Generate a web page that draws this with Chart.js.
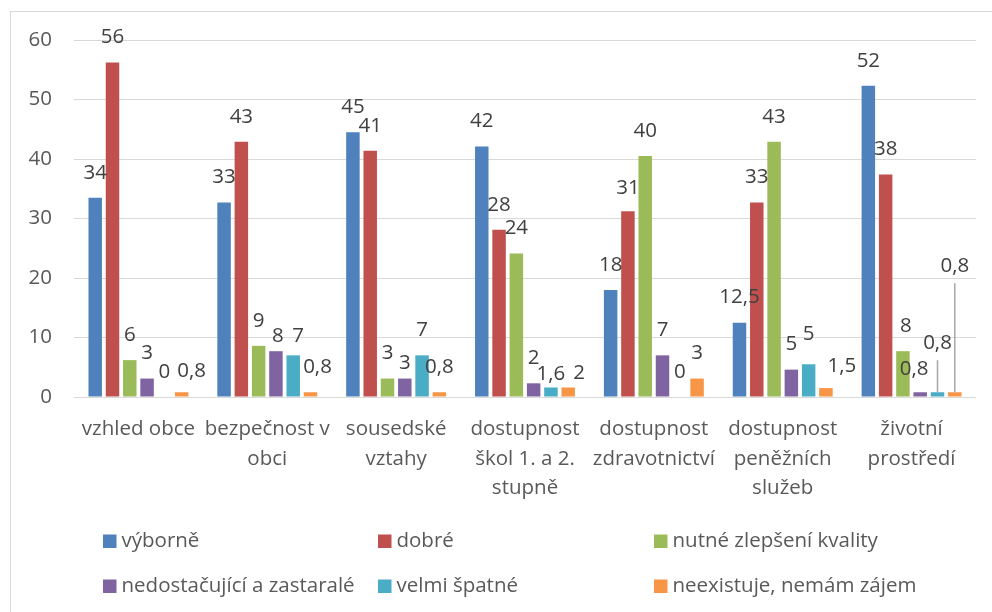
<!DOCTYPE html>
<html>
<head>
<meta charset="utf-8">
<script src="https://cdn.jsdelivr.net/npm/chart.js@4.4.1/dist/chart.umd.min.js"></script>
<style>
  html, body { margin: 0; padding: 0; background: #fff; }
  #wrap { width: 992px; height: 612px; }
</style>
</head>
<body>
<div id="wrap"><canvas id="graf" width="992" height="612"></canvas></div>
<script>
// kategorie (osa x)
const kategorie = [
    'vzhled obce',
    ['bezpečnost v', 'obci'],
    ['sousedské', 'vztahy'],
    ['dostupnost', 'škol 1. a 2.', 'stupně'],
    ['dostupnost', 'zdravotnictví'],
    ['dostupnost', 'peněžních', 'služeb'],
    ['životní', 'prostředí']
];

// názvy řad
const nazvyRad = ['výborně', 'dobré', 'nutné zlepšení kvality', 'nedostačující a zastaralé', 'velmi špatné', 'neexistuje, nemám zájem'];

// výšky sloupců
const vyborne       = [33.5, 32.7, 44.5, 42.1, 18.0, 12.5, 52.3];
const dobre         = [56.2, 42.9, 41.4, 28.1, 31.2, 32.7, 37.4];
const nutne         = [6.2, 8.6, 3.1, 24.1, 40.5, 42.9, 7.7];
const nedostacujici = [3.1, 7.7, 3.1, 2.3, 7.0, 4.6, 0.8];
const velmiSpatne   = [0, 7.0, 7.0, 1.6, 0, 5.5, 0.8];
const neexistuje    = [0.8, 0.8, 0.8, 1.6, 3.1, 1.5, 0.8];

// popisky hodnot tak, jak jsou v grafu
const vyborneText       = ['34', '33', '45', '42', '18', '12,5', '52'];
const dobreText         = ['56', '43', '41', '28', '31', '33', '38'];
const nutneText         = ['6', '9', '3', '24', '40', '43', '8'];
const nedostacujiciText = ['3', '8', '3', '2', '7', '5', '0,8'];
const velmiSpatneText   = ['0', '7', '7', '1,6', '0', '5', '0,8'];
const neexistujeText    = ['0,8', '0,8', '0,8', '2', '3', '1,5', '0,8'];

// popisky osy y
const tickyY = [0, 10, 20, 30, 40, 50, 60];

const barvy = ['#4f81bd', '#c0504d', '#9bbb59', '#8064a2', '#4bacc6', '#f79646'];
const hodnoty = [vyborne, dobre, nutne, nedostacujici, velmiSpatne, neexistuje];
const texty = [vyborneText, dobreText, nutneText, nedostacujiciText, velmiSpatneText, neexistujeText];

// ručně posunuté popisky [řada-kategorie] = [dx, nahoru]
const posuny = {
    '1-4': [0, -2],
    '2-6': [3, 0],
    '3-1': [2, -10], '3-2': [0, -10], '3-6': [-6, -2],
    '4-1': [5, -6], '4-3': [0, -12], '4-5': [0, 5], '4-6': [0, 24],
    '5-0': [10, -4], '5-1': [7, 0], '5-3': [11, -11], '5-5': [16, -3], '5-6': [0, 101]
};

const PISMO = "'Open Sans', 'Noto Sans', sans-serif";
const VELIKOST = 20.5;
Chart.defaults.font.family = PISMO;

// rámeček kolem grafu
const ramecek = {
    id: 'ramecek',
    beforeDraw(chart) {
        const ctx = chart.ctx;
        ctx.save();
        ctx.fillStyle = '#fff';
        ctx.fillRect(0, 0, chart.width, chart.height);
        ctx.strokeStyle = '#d9d9d9';
        ctx.lineWidth = 1;
        ctx.strokeRect(10.5, 11.5, 1100, 800);
        ctx.restore();
    }
};

// popisky hodnot nad sloupci
const popisky = {
    id: 'popisky',
    afterDatasetsDraw(chart) {
        const ctx = chart.ctx;
        ctx.save();
        ctx.font = VELIKOST + 'px ' + PISMO;
        ctx.textAlign = 'center';
        ctx.textBaseline = 'middle';
        chart.data.datasets.forEach((ds, i) => {
            chart.getDatasetMeta(i).data.forEach((el, j) => {
                const p = posuny[i + '-' + j] || [0, 0];
                const x = el.x + p[0];
                const y = el.y - 25 - p[1];
                if (p[1] > 20) {
                    ctx.strokeStyle = '#a6a6a6';
                    ctx.lineWidth = 1.5;
                    ctx.beginPath();
                    ctx.moveTo(x, y + 17);
                    ctx.lineTo(x, el.y);
                    ctx.stroke();
                }
                ctx.fillStyle = '#404040';
                ctx.fillText(texty[i][j], x, y);
            });
        });
        ctx.restore();
    }
};

// legenda ve třech sloupcích
const legenda = {
    id: 'legenda',
    afterDraw(chart) {
        const ctx = chart.ctx;
        const sloupceX = [103, 378, 654];
        const radkyY = [541, 586];
        ctx.save();
        ctx.font = VELIKOST + 'px ' + PISMO;
        ctx.textAlign = 'left';
        ctx.textBaseline = 'middle';
        chart.data.datasets.forEach((ds, i) => {
            const x = sloupceX[i % 3];
            const y = radkyY[Math.floor(i / 3)];
            ctx.fillStyle = ds.backgroundColor;
            ctx.fillRect(x, y - 6.5, 13.5, 13.5);
            ctx.fillStyle = '#595959';
            ctx.fillText(ds.label, x + 18.5, y);
        });
        ctx.restore();
    }
};

const ctxGraf = document.getElementById('graf').getContext('2d');
new Chart(ctxGraf, {
    type: 'bar',
    data: {
        labels: kategorie,
        datasets: nazvyRad.map((n, i) => ({
            label: n,
            data: hodnoty[i],
            backgroundColor: barvy[i],
            borderWidth: 0,
            categoryPercentage: 0.805,
            barPercentage: 0.78
        }))
    },
    options: {
        responsive: false,
        animation: false,
        layout: { padding: { top: 40, right: 16, left: 0, bottom: 0 } },
        plugins: { legend: { display: false }, tooltip: { enabled: false } },
        scales: {
            x: {
                grid: { display: false },
                border: { display: false },
                ticks: { color: '#595959', font: { size: VELIKOST, lineHeight: 1.42 }, padding: 10, maxRotation: 0, autoSkip: false },
                afterFit(s) { s.height = 215; }
            },
            y: {
                min: 0, max: 60,
                afterBuildTicks(s) { s.ticks = tickyY.map(v => ({ value: v })); },
                grid: { color: '#d9d9d9', lineWidth: 1, drawTicks: false },
                border: { display: false },
                ticks: { color: '#595959', font: { size: VELIKOST }, padding: 22 },
                afterFit(s) { s.width = 74; }
            }
        }
    },
    plugins: [ramecek, popisky, legenda]
});
</script>
</body>
</html>
